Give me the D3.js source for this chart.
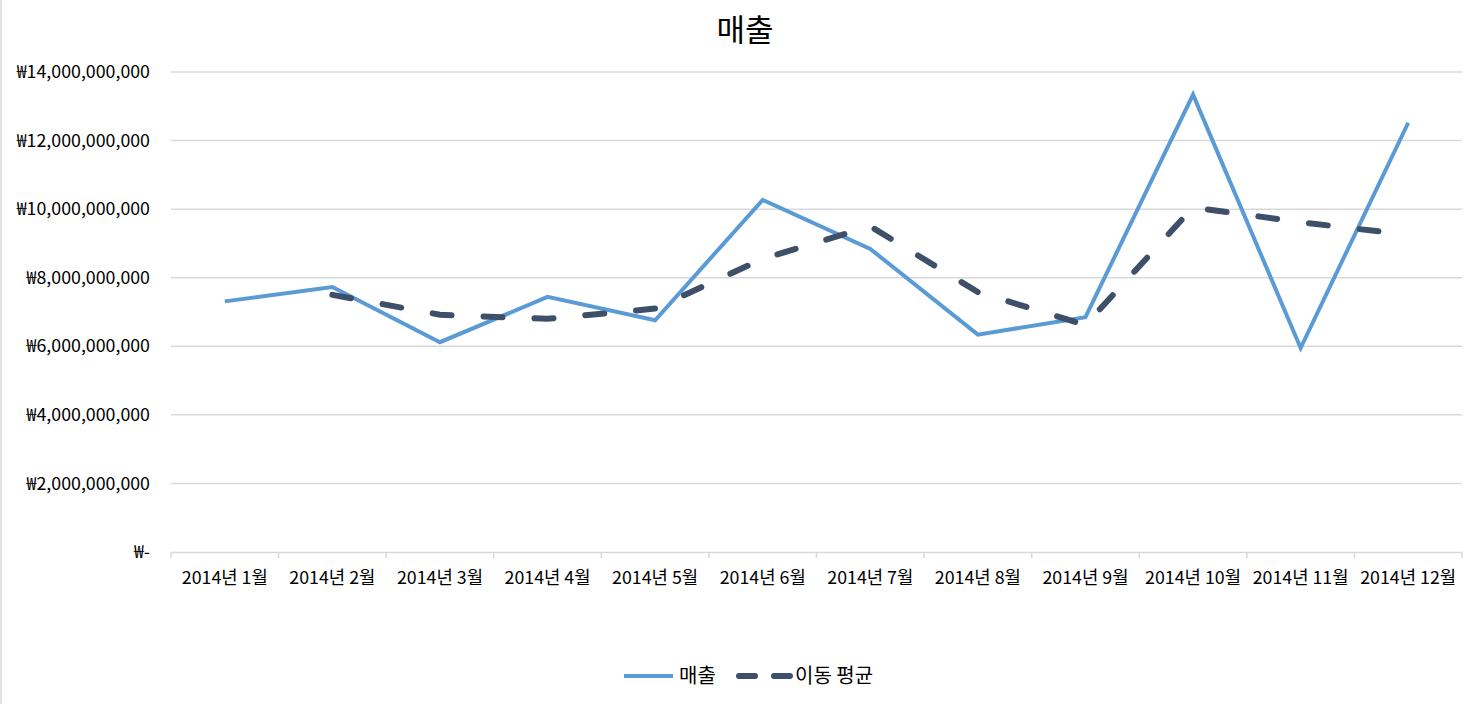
<!DOCTYPE html>
<html>
<head>
<meta charset="utf-8">
<script src="https://cdn.jsdelivr.net/npm/d3@7"></script>
<style>
  body { margin: 0; background: #fff; }
  svg { display: block; font-family: "Noto Sans CJK KR", "Noto Sans", sans-serif; }
</style>
</head>
<body>
<div class="chart"></div>
<script>
// 데이터
const months = ["2014년 1월", "2014년 2월", "2014년 3월", "2014년 4월", "2014년 5월", "2014년 6월",
                "2014년 7월", "2014년 8월", "2014년 9월", "2014년 10월", "2014년 11월", "2014년 12월"];
const sales = [7.31e9, 7.73e9, 6.12e9, 7.44e9, 6.76e9, 10.27e9, 8.84e9, 6.34e9, 6.85e9, 13.34e9, 5.95e9, 12.52e9];
// 이동 평균 (1월은 값 없음)
const movingAvg = [null, 7.50e9, 6.92e9, 6.80e9, 7.10e9, 8.55e9, 9.50e9, 7.58e9, 6.62e9, 10.05e9, 9.62e9, 9.25e9];
const yTicks = [0, 2e9, 4e9, 6e9, 8e9, 10e9, 12e9, 14e9];

const width = 1481, height = 704;
const plotLeft = 171, plotRight = 1462, plotTop = 72, plotBottom = 552;

const svg = d3.select(".chart").append("svg")
    .attr("width", width)
    .attr("height", height);

// 차트 테두리 (왼쪽)
svg.append("line")
    .attr("x1", 1).attr("x2", 1).attr("y1", 0).attr("y2", height)
    .attr("stroke", "#d9d9d9").attr("stroke-width", 1.5);

// 제목
svg.append("text")
    .attr("x", 745).attr("y", 41)
    .attr("text-anchor", "middle")
    .attr("font-size", 31)
    .attr("fill", "#000")
    .text("매출");

const x = d3.scaleBand().domain(months).range([plotLeft, plotRight]).padding(0);
const y = d3.scaleLinear().domain([0, 14e9]).range([plotBottom, plotTop]);
const cx = d => x(d) + x.bandwidth() / 2;

// 눈금선
svg.append("g")
    .selectAll("line")
    .data(yTicks.filter(t => t > 0))
    .join("line")
    .attr("x1", plotLeft).attr("x2", plotRight)
    .attr("y1", d => y(d)).attr("y2", d => y(d))
    .attr("stroke", "#d9d9d9").attr("stroke-width", 1.5);

// y축 레이블
const fmt = d3.format(",");
const yAxis = svg.append("g")
    .attr("transform", `translate(${plotLeft},0)`)
    .call(d3.axisLeft(y).tickValues(yTicks).tickSize(0).tickPadding(21)
        .tickFormat(d => d === 0 ? "₩-" : "₩" + fmt(d)));
yAxis.select(".domain").remove();
yAxis.selectAll("text").attr("font-size", 17.8).attr("fill", "#000")
    .attr("font-family", "\"Noto Sans CJK KR\", sans-serif");

// x축
const xAxis = svg.append("g")
    .attr("transform", `translate(0,${plotBottom})`)
    .call(d3.axisBottom(x).tickSize(0).tickPadding(19));
xAxis.select(".domain").attr("stroke", "#d9d9d9").attr("stroke-width", 1.5);
xAxis.selectAll("text").attr("font-size", 17.8).attr("fill", "#000")
    .attr("font-family", "\"Noto Sans CJK KR\", sans-serif");
// 구간 경계 눈금
svg.append("g")
    .selectAll("line")
    .data(months.map(m => x(m)).concat([plotRight]))
    .join("line")
    .attr("x1", d => d).attr("x2", d => d)
    .attr("y1", plotBottom).attr("y2", plotBottom + 6)
    .attr("stroke", "#d9d9d9").attr("stroke-width", 1.5);

// 매출 선
const line = d3.line()
    .defined(d => d.v != null)
    .x(d => cx(d.m))
    .y(d => y(d.v));

svg.append("path")
    .datum(months.map((m, i) => ({ m: m, v: sales[i] })))
    .attr("d", line)
    .attr("fill", "none")
    .attr("stroke", "#5b9bd5")
    .attr("stroke-width", 4)
    .attr("stroke-linejoin", "miter");

// 이동 평균 선
svg.append("path")
    .datum(months.map((m, i) => ({ m: m, v: movingAvg[i] })).filter(d => d.v != null))
    .attr("d", line)
    .attr("fill", "none")
    .attr("stroke", "#3e5069")
    .attr("stroke-width", 6)
    .attr("stroke-linecap", "round")
    .attr("stroke-dasharray", "19,32");

// 범례
const legend = svg.append("g");
legend.append("line")
    .attr("x1", 624).attr("x2", 673).attr("y1", 676).attr("y2", 676)
    .attr("stroke", "#5b9bd5").attr("stroke-width", 4);
legend.append("text")
    .attr("x", 679).attr("y", 683)
    .attr("font-size", 20).attr("fill", "#000")
    .text("매출");
legend.append("line")
    .attr("x1", 739).attr("x2", 790).attr("y1", 676).attr("y2", 676)
    .attr("stroke", "#3e5069").attr("stroke-width", 6)
    .attr("stroke-linecap", "round")
    .attr("stroke-dasharray", "16,19");
legend.append("text")
    .attr("x", 795).attr("y", 683)
    .attr("font-size", 20).attr("fill", "#000")
    .text("이동 평균");
</script>
</body>
</html>
